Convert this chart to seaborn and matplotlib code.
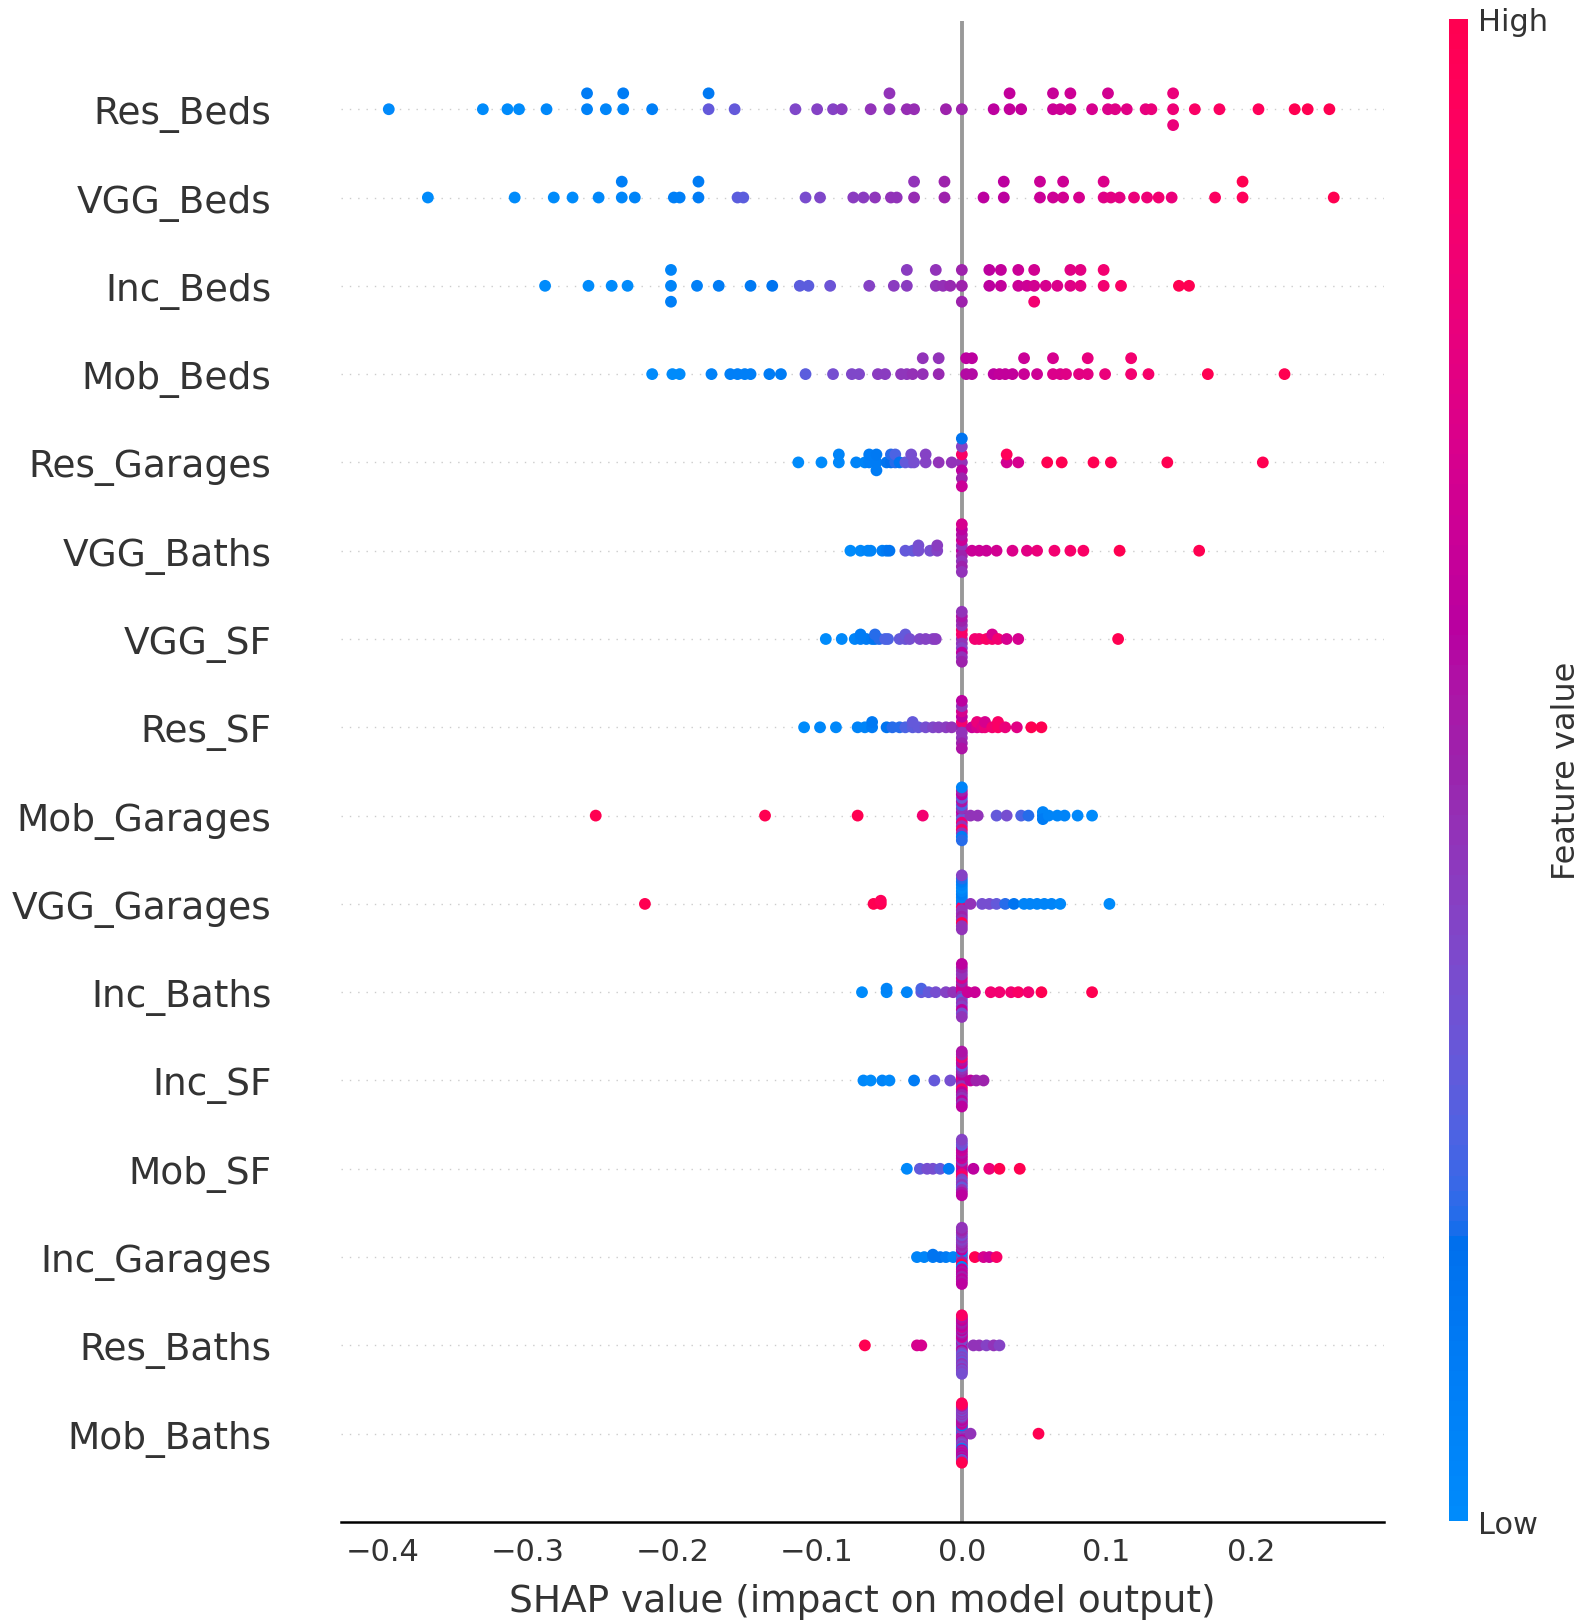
import numpy as np
import pandas as pd
import matplotlib
matplotlib.use("Agg")
import matplotlib.pyplot as plt
import seaborn as sns
from matplotlib.colors import ListedColormap, Normalize
from matplotlib.cm import ScalarMappable


# features from top to bottom of the chart
features = ["Res_Beds", "VGG_Beds", "Inc_Beds", "Mob_Beds", "Res_Garages",
            "VGG_Baths", "VGG_SF", "Res_SF", "Mob_Garages", "VGG_Garages",
            "Inc_Baths", "Inc_SF", "Mob_SF", "Inc_Garages", "Res_Baths", "Mob_Baths"]

xticks = [-0.4, -0.3, -0.2, -0.1, 0.0, 0.1, 0.2]

# shap values and (normalised) feature values per feature
res_beds_shap = [-0.396, -0.331, -0.314, -0.306, -0.287, -0.259, -0.259, -0.246, -0.234, -0.234,
                 -0.214, -0.175, -0.175, -0.157, -0.115, -0.100, -0.089, -0.083, -0.063, -0.050,
                 -0.050, -0.038, -0.033, -0.011, 0.000, 0.022, 0.033, 0.033, 0.041, 0.063,
                 0.063, 0.068, 0.075, 0.075, 0.090, 0.101, 0.101, 0.106, 0.114, 0.127,
                 0.131, 0.146, 0.146, 0.146, 0.161, 0.178, 0.205, 0.230, 0.239, 0.254]
res_beds_val = [0.0, 0.0, 0.0, 0.0, 0.02, 0.06, 0.1, 0.04, 0.05, 0.1,
                0.08, 0.3, 0.12, 0.3, 0.38, 0.4, 0.4, 0.42, 0.45, 0.45,
                0.45, 0.47, 0.47, 0.5, 0.5, 0.6, 0.62, 0.62, 0.62, 0.65,
                0.64, 0.66, 0.68, 0.66, 0.7, 0.72, 0.68, 0.74, 0.75, 0.78,
                0.8, 0.82, 0.8, 0.8, 0.9, 0.92, 0.95, 1.0, 1.0, 1.0]

vgg_beds_shap = [-0.369, -0.309, -0.282, -0.269, -0.251, -0.235, -0.235, -0.226, -0.199, -0.195,
                 -0.182, -0.182, -0.155, -0.151, -0.108, -0.098, -0.075, -0.068, -0.060, -0.049,
                 -0.045, -0.033, -0.033, -0.012, -0.012, 0.015, 0.029, 0.029, 0.054, 0.054,
                 0.063, 0.070, 0.070, 0.081, 0.098, 0.098, 0.103, 0.109, 0.119, 0.128,
                 0.136, 0.145, 0.175, 0.194, 0.194, 0.257]
vgg_beds_val = [0.0, 0.0, 0.0, 0.0, 0.02, 0.03, 0.08, 0.05, 0.08, 0.08,
                0.1, 0.1, 0.28, 0.28, 0.36, 0.38, 0.42, 0.42, 0.44, 0.45,
                0.45, 0.47, 0.45, 0.5, 0.5, 0.6, 0.6, 0.6, 0.65, 0.65,
                0.66, 0.68, 0.66, 0.7, 0.74, 0.72, 0.76, 0.76, 0.8, 0.82,
                0.85, 0.8, 0.92, 0.95, 1.0, 1.0]

inc_beds_shap = [-0.288, -0.258, -0.242, -0.231, -0.201, -0.201, -0.201, -0.183, -0.168, -0.146,
                 -0.131, -0.112, -0.106, -0.091, -0.064, -0.047, -0.038, -0.038, -0.018, -0.018,
                 -0.013, -0.008, 0.000, 0.000, 0.000, 0.019, 0.019, 0.027, 0.027, 0.039,
                 0.039, 0.045, 0.050, 0.050, 0.050, 0.058, 0.066, 0.075, 0.075, 0.082,
                 0.082, 0.098, 0.098, 0.110, 0.150, 0.157]
inc_beds_val = [0.0, 0.0, 0.0, 0.0, 0.05, 0.05, 0.08, 0.08, 0.1, 0.12,
                0.15, 0.28, 0.28, 0.32, 0.4, 0.42, 0.42, 0.42, 0.45, 0.45,
                0.46, 0.48, 0.5, 0.5, 0.5, 0.6, 0.6, 0.62, 0.62, 0.65,
                0.65, 0.66, 0.68, 0.68, 0.85, 0.7, 0.72, 0.74, 0.75, 0.76,
                0.76, 0.85, 0.85, 0.9, 1.0, 1.0]

mob_beds_shap = [-0.214, -0.200, -0.195, -0.173, -0.160, -0.155, -0.150, -0.146, -0.133, -0.125,
                 -0.108, -0.089, -0.076, -0.071, -0.058, -0.053, -0.042, -0.038, -0.034, -0.027,
                 -0.027, -0.016, -0.016, 0.003, 0.003, 0.007, 0.007, 0.022, 0.026, 0.030,
                 0.035, 0.043, 0.043, 0.052, 0.063, 0.063, 0.068, 0.072, 0.081, 0.087,
                 0.087, 0.099, 0.117, 0.117, 0.129, 0.170, 0.223]
mob_beds_val = [0.0, 0.0, 0.0, 0.06, 0.08, 0.08, 0.08, 0.08, 0.1, 0.1,
                0.28, 0.35, 0.38, 0.38, 0.42, 0.42, 0.44, 0.44, 0.46, 0.46,
                0.45, 0.48, 0.45, 0.58, 0.6, 0.58, 0.6, 0.6, 0.62, 0.62,
                0.62, 0.65, 0.65, 0.66, 0.72, 0.7, 0.72, 0.74, 0.76, 0.76,
                0.78, 0.8, 0.85, 0.85, 0.88, 1.0, 1.0]

res_garages_shap = [-0.113, -0.097, -0.085, -0.085, -0.073, -0.067, -0.064, -0.064, -0.059, -0.059,
                    -0.059, -0.052, -0.049, -0.049, -0.046, -0.046, -0.043, -0.039, -0.035, -0.035,
                    -0.033, -0.025, -0.025, -0.016, -0.007, 0.0, 0.0, 0.0, 0.0, 0.0,
                    0.0, 0.0, 0.031, 0.031, 0.039, 0.059, 0.069, 0.091, 0.103, 0.142,
                    0.208]
res_garages_val = [0.0, 0.0, 0.02, 0.05, 0.05, 0.05, 0.08, 0.1, 0.1, 0.12,
                   0.1, 0.15, 0.18, 0.2, 0.2, 0.25, 0.15, 0.3, 0.3, 0.35,
                   0.35, 0.4, 0.4, 0.45, 0.45, 0.45, 0.9, 0.6, 0.4, 0.5,
                   0.15, 0.65, 0.68, 0.95, 0.7, 1.0, 1.0, 1.0, 1.0, 1.0,
                   1.0]

vgg_baths_shap = [-0.077, -0.070, -0.065, -0.063, -0.055, -0.052, -0.050, -0.039, -0.034, -0.030,
                  -0.030, -0.022, -0.017, -0.017, 0.0, 0.0, 0.0, 0.0, 0.0, 0.0,
                  0.0, 0.0, 0.0, 0.0, 0.007, 0.012, 0.017, 0.024, 0.035, 0.045,
                  0.052, 0.064, 0.075, 0.084, 0.109, 0.164]
vgg_baths_val = [0.0, 0.02, 0.05, 0.05, 0.08, 0.12, 0.15, 0.3, 0.3, 0.35,
                 0.35, 0.35, 0.4, 0.42, 0.6, 0.45, 0.5, 0.65, 0.45, 0.55,
                 0.5, 0.6, 0.45, 0.7, 0.65, 0.65, 0.65, 0.68, 0.72, 0.75,
                 0.8, 0.85, 0.88, 0.9, 1.0, 1.0]

vgg_sf_shap = [-0.094, -0.083, -0.074, -0.070, -0.070, -0.066, -0.062, -0.060, -0.060, -0.057,
               -0.053, -0.051, -0.043, -0.039, -0.039, -0.036, -0.029, -0.025, -0.020, -0.018,
               0.0, 0.0, 0.0, 0.0, 0.0, 0.0, 0.0, 0.0, 0.0, 0.0,
               0.0, 0.0, 0.009, 0.012, 0.017, 0.021, 0.021, 0.025, 0.031, 0.039,
               0.108]
vgg_sf_val = [0.0, 0.02, 0.05, 0.08, 0.1, 0.1, 0.12, 0.15, 0.2, 0.2,
              0.25, 0.25, 0.3, 0.32, 0.3, 0.35, 0.38, 0.4, 0.4, 0.42,
              0.45, 0.85, 0.45, 0.9, 0.4, 0.45, 0.6, 0.5, 0.45, 0.55,
              0.5, 0.45, 0.85, 0.85, 0.9, 0.88, 0.7, 0.85, 0.7, 0.7,
              1.0]

res_sf_shap = [-0.109, -0.098, -0.087, -0.072, -0.067, -0.062, -0.062, -0.052, -0.048, -0.043,
               -0.039, -0.034, -0.034, -0.030, -0.025, -0.020, -0.016, -0.011, -0.007, 0.0,
               0.0, 0.0, 0.0, 0.0, 0.0, 0.0, 0.0, 0.0, 0.0, 0.007,
               0.0105, 0.0105, 0.014, 0.016, 0.016, 0.021, 0.025, 0.025, 0.030, 0.038,
               0.048, 0.055]
res_sf_val = [0.0, 0.02, 0.02, 0.05, 0.05, 0.1, 0.12, 0.15, 0.2, 0.2,
              0.25, 0.28, 0.3, 0.3, 0.35, 0.38, 0.4, 0.42, 0.45, 0.5,
              0.85, 0.45, 0.6, 0.45, 0.7, 0.5, 0.45, 0.55, 0.6, 0.65,
              0.7, 0.8, 0.75, 0.8, 0.7, 0.85, 0.9, 0.9, 0.8, 0.75,
              1.0, 1.0]

mob_garages_shap = [-0.253, -0.136, -0.072, -0.027, 0.0, 0.0, 0.0, 0.0, 0.0, 0.0,
                    0.0, 0.0, 0.0, 0.0, 0.0, 0.0, 0.0, 0.0, 0.0, 0.0,
                    0.006, 0.011, 0.024, 0.031, 0.041, 0.046, 0.056, 0.056, 0.056, 0.060,
                    0.066, 0.071, 0.080, 0.090]
mob_garages_val = [1.0, 1.0, 1.0, 0.85, 0.45, 0.6, 0.3, 0.45, 0.8, 0.25,
                   0.45, 0.55, 0.9, 0.3, 0.45, 0.6, 0.1, 0.5, 0.2, 0.05,
                   0.45, 0.45, 0.3, 0.35, 0.25, 0.2, 0.1, 0.05, 0.1, 0.05,
                   0.05, 0.05, 0.02, 0.0]

vgg_garages_shap = [-0.219, -0.061, -0.056, -0.056, 0.0, 0.0, 0.0, 0.0, 0.0, 0.0,
                    0.0, 0.0, 0.0, 0.0, 0.0, 0.0, 0.0, 0.0, 0.0, 0.0,
                    0.0, 0.0, 0.006, 0.014, 0.019, 0.024, 0.030, 0.036, 0.043, 0.047,
                    0.052, 0.057, 0.062, 0.068, 0.102]
vgg_garages_val = [1.0, 1.0, 1.0, 0.95, 0.05, 0.05, 0.9, 0.05, 0.45, 0.1,
                   0.45, 0.05, 0.5, 0.0, 0.45, 0.05, 1.0, 0.1, 0.45, 0.2,
                   0.45, 0.4, 0.45, 0.35, 0.35, 0.3, 0.2, 0.15, 0.05, 0.05,
                   0.05, 0.05, 0.05, 0.02, 0.0]

inc_baths_shap = [-0.069, -0.052, -0.052, -0.038, -0.028, -0.028, -0.023, -0.018, -0.011, -0.006,
                  0.0, 0.0, 0.0, 0.0, 0.0, 0.0, 0.0, 0.0, 0.0, 0.0,
                  0.0, 0.0, 0.0, 0.0, 0.0, 0.0, 0.004, 0.009, 0.020, 0.026,
                  0.034, 0.039, 0.046, 0.055, 0.090]
inc_baths_val = [0.0, 0.02, 0.05, 0.05, 0.3, 0.25, 0.3, 0.35, 0.4, 0.45,
                 0.6, 0.7, 0.45, 0.65, 0.3, 0.5, 0.45, 0.7, 0.4, 0.45,
                 0.6, 0.45, 0.35, 0.5, 0.45, 0.6, 0.65, 0.65, 0.85, 0.85,
                 0.85, 0.9, 0.85, 1.0, 1.0]

inc_sf_shap = [-0.068, -0.063, -0.055, -0.050, -0.033, -0.019, -0.008, 0.0, 0.0, 0.0,
               0.0, 0.0, 0.0, 0.0, 0.0, 0.0, 0.0, 0.0, 0.0, 0.0,
               0.0, 0.0, 0.0, 0.0, 0.0, 0.0, 0.0, 0.006, 0.010, 0.015]
inc_sf_val = [0.02, 0.0, 0.05, 0.02, 0.1, 0.3, 0.35, 0.6, 0.95, 0.55,
              0.6, 0.45, 0.5, 0.9, 0.45, 0.6, 0.3, 0.5, 0.65, 0.45,
              0.55, 0.6, 0.9, 0.45, 0.5, 0.6, 0.55, 0.6, 0.5, 0.5]

mob_sf_shap = [-0.038, -0.029, -0.024, -0.020, -0.015, -0.009, 0.0, 0.0, 0.0, 0.0,
               0.0, 0.0, 0.0, 0.0, 0.0, 0.0, 0.0, 0.0, 0.0, 0.0,
               0.0, 0.0, 0.0, 0.0, 0.0, 0.0, 0.0, 0.0, 0.008, 0.019,
               0.026, 0.040]
mob_sf_val = [0.02, 0.3, 0.35, 0.35, 0.3, 0.1, 0.05, 0.65, 0.6, 0.65,
              0.8, 0.45, 0.9, 0.65, 0.4, 0.6, 0.35, 0.55, 0.45, 0.65,
              0.3, 0.6, 0.45, 0.3, 0.55, 0.35, 0.6, 0.4, 0.6, 0.8,
              1.0, 1.0]

inc_garages_shap = [-0.031, -0.026, -0.020, -0.020, -0.015, -0.011, -0.006, 0.0, 0.0, 0.0,
                    0.0, 0.0, 0.0, 0.0, 0.0, 0.0, 0.0, 0.0, 0.0, 0.0,
                    0.0, 0.0, 0.0, 0.0, 0.0, 0.0, 0.0, 0.0, 0.0, 0.0,
                    0.0, 0.009, 0.015, 0.019, 0.024]
inc_garages_val = [0.05, 0.05, 0.1, 0.15, 0.15, 0.1, 0.05, 0.05, 0.45, 0.4,
                   0.05, 0.5, 0.6, 1.0, 0.45, 0.05, 0.5, 0.6, 0.45, 0.55,
                   0.4, 0.6, 0.45, 0.5, 0.35, 0.6, 0.45, 0.55, 0.5, 0.6,
                   0.45, 1.0, 0.7, 0.65, 0.9]

res_baths_shap = [-0.067, -0.031, -0.028, 0.0, 0.0, 0.0, 0.0, 0.0, 0.0, 0.0,
                  0.0, 0.0, 0.0, 0.0, 0.0, 0.0, 0.0, 0.0, 0.0, 0.0,
                  0.0, 0.0, 0.0, 0.0, 0.0, 0.0, 0.0, 0.0, 0.0, 0.0,
                  0.0, 0.0, 0.0, 0.0, 0.0, 0.0, 0.0, 0.0, 0.0, 0.008,
                  0.012, 0.017, 0.022, 0.026]
res_baths_val = [1.0, 0.7, 0.7, 0.05, 0.35, 0.4, 0.6, 0.45, 0.35, 0.6,
                 0.4, 0.45, 0.65, 0.35, 0.6, 0.3, 0.55, 0.4, 0.45, 0.35,
                 0.6, 0.4, 0.5, 0.3, 0.65, 0.45, 0.6, 0.4, 0.55, 0.35,
                 0.5, 0.45, 0.6, 0.35, 0.65, 0.4, 0.55, 0.35, 0.9, 0.45,
                 0.45, 0.4, 0.45, 0.4]

mob_baths_shap = [0.0, 0.0, 0.0, 0.0, 0.0, 0.0, 0.0, 0.0, 0.0, 0.0,
                  0.0, 0.0, 0.0, 0.0, 0.0, 0.0, 0.0, 0.0, 0.0, 0.0,
                  0.0, 0.0, 0.0, 0.0, 0.0, 0.0, 0.0, 0.0, 0.0, 0.0,
                  0.0, 0.0, 0.0, 0.0, 0.0, 0.0, 0.0, 0.0, 0.0, 0.0,
                  0.0, 0.0, 0.0, 0.0, 0.006, 0.053]
mob_baths_val = [0.45, 0.6, 0.4, 0.05, 0.55, 0.45, 0.65, 0.35, 0.5, 0.45,
                 0.6, 0.1, 0.45, 0.55, 0.4, 0.65, 0.35, 0.5, 0.45, 0.6,
                 0.4, 0.55, 0.05, 0.45, 0.6, 0.35, 0.5, 0.45, 0.65, 0.4,
                 0.55, 0.45, 0.6, 0.35, 0.5, 0.45, 0.6, 0.4, 0.3, 0.5,
                 0.45, 0.9, 1.0, 0.95, 0.45, 1.0]

shap_rows = [res_beds_shap, vgg_beds_shap, inc_beds_shap, mob_beds_shap, res_garages_shap,
             vgg_baths_shap, vgg_sf_shap, res_sf_shap, mob_garages_shap, vgg_garages_shap,
             inc_baths_shap, inc_sf_shap, mob_sf_shap, inc_garages_shap, res_baths_shap,
             mob_baths_shap]
val_rows = [res_beds_val, vgg_beds_val, inc_beds_val, mob_beds_val, res_garages_val,
            vgg_baths_val, vgg_sf_val, res_sf_val, mob_garages_val, vgg_garages_val,
            inc_baths_val, inc_sf_val, mob_sf_val, inc_garages_val, res_baths_val,
            mob_baths_val]


def lch_to_rgb(l, c, h):
    # CIE LCh -> Lab -> XYZ (D65) -> sRGB
    a, b = c * np.cos(h), c * np.sin(h)
    fy = (l + 16) / 116
    f = np.array([fy + a / 500, fy, fy - b / 200])
    xyz = np.where(f ** 3 > 0.008856, f ** 3, (f - 16 / 116) / 7.787)
    xyz = xyz * np.array([0.95047, 1.0, 1.08883])
    m = np.array([[3.2406, -1.5372, -0.4986],
                  [-0.9689, 1.8758, 0.0415],
                  [0.0557, -0.2040, 1.0570]])
    rgb = m @ xyz
    rgb = np.where(rgb > 0.0031308, 1.055 * np.abs(rgb) ** (1 / 2.4) - 0.055, 12.92 * rgb)
    return np.clip(rgb, 0, 1)


# blue -> purple -> red map, same construction as shap's red_blue
nsteps = 100
l_vals = list(np.linspace(54, 40, nsteps // 2)) + list(np.linspace(40, 54, nsteps // 2))
c_vals = np.linspace(70, 90, nsteps)
h_vals = np.linspace(4.6588, 0.35470565 + 2 * np.pi, nsteps)
red_blue = ListedColormap([lch_to_rgb(l, c, h) for l, c, h in zip(l_vals, c_vals, h_vals)])


def swarm_offsets(values, row_height=0.4):
    # stack equal values alternately above / below the row line
    ys = np.zeros(len(values))
    seen = {}
    for i, v in enumerate(values):
        layer = seen.get(v, 0)
        ys[i] = np.ceil(layer / 2) * ((layer % 2) * 2 - 1)
        seen[v] = layer + 1
    return ys * 0.9 * (row_height / np.max(ys + 1))


frames = []
n = len(features)
for i, name in enumerate(features):
    pos = n - 1 - i
    frames.append(pd.DataFrame({
        "feature": name,
        "shap": shap_rows[i],
        "value": val_rows[i],
        "y": pos + swarm_offsets(shap_rows[i]),
    }))
df = pd.concat(frames, ignore_index=True)

sns.set_style("white")
fig = plt.figure(figsize=(15.84, 16.24), dpi=100)
ax = fig.add_axes([0.2153, 0.0622, 0.6584, 0.9243])

ax.axvline(0, color="#999999", lw=2.8, zorder=-1)
for pos in range(n):
    ax.axhline(pos, color="#cccccc", lw=1.0, dashes=(1, 5), zorder=-1)

sns.scatterplot(data=df, x="shap", y="y", hue="value", palette=red_blue, hue_norm=(0, 1),
                s=72, linewidth=0, alpha=1, legend=False, ax=ax, zorder=3)

ax.set_xlim(-0.429, 0.2917)
ax.set_ylim(-1, n)
ax.set_xticks(xticks)
ax.set_yticks(range(n))
ax.set_yticklabels(features[::-1], fontsize=27, color="#333333")
ax.tick_params(axis="y", length=0, pad=50)
ax.tick_params(axis="x", labelsize=22, labelcolor="#333333", color="#333333",
               length=7, width=1.3, pad=4)
ax.set_xlabel("SHAP value (impact on model output)", fontsize=27, color="#333333", labelpad=12)
ax.set_ylabel("")
for side in ["top", "right", "left"]:
    ax.spines[side].set_visible(False)
ax.spines["bottom"].set_linewidth(1.8)
ax.spines["bottom"].set_color("black")
ax.grid(False)

cax = fig.add_axes([0.9148, 0.0628, 0.012, 0.925])
sm = ScalarMappable(cmap=red_blue, norm=Normalize(0, 1))
cb = fig.colorbar(sm, cax=cax, ticks=[0, 1])
cb.set_ticklabels(["Low", "High"])
cb.ax.tick_params(labelsize=22, length=0, pad=7, labelcolor="#333333")
cb.set_label("Feature value", size=23, labelpad=2, color="#333333")
cb.outline.set_visible(False)

fig.savefig("out.png", dpi=100)
